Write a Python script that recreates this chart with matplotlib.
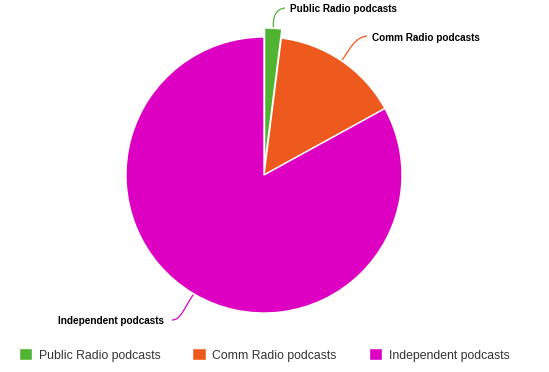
import numpy as np
import matplotlib.pyplot as plt
from matplotlib.path import Path
from matplotlib.patches import PathPatch

labels = ["Public Radio podcasts", "Comm Radio podcasts", "Independent podcasts"]
shares = [2, 15, 83]
colors = ["#50B432", "#EE5A1E", "#DD00C3"]

H = 372
fig = plt.figure(figsize=(5.49, 3.72), dpi=100)
ax = fig.add_axes([0, 0, 1, 1])

cx, cy, r = 264, H - 175, 138
wedges, _ = ax.pie(shares, colors=colors, explode=[9, 0, 0], startangle=90,
                   counterclock=False, center=(cx, cy), radius=r,
                   wedgeprops=dict(edgecolor="white", linewidth=1))
ax.set_xlim(0, 549)
ax.set_ylim(0, H)
ax.set_aspect("equal")
ax.axis("off")

# label text positions and connector control offsets (pixels, y from top)
lab_font = dict(family="Liberation Sans", fontsize=7.2, fontweight="bold", color="#000000")
text_pos = [(290, 9, "left"), (372, 38, "left"), (164, 321, "right")]
ends = [(285, 8), (367, 36), (172, 320)]
ctrl = [((273, 16), (276, 9)), ((351, 47), (356, 37)), ((184, 308), (181, 320))]

for w, lab, col, tp, e, c in zip(wedges, labels, colors, text_pos, ends, ctrl):
    ang = np.deg2rad((w.theta1 + w.theta2) / 2)
    wx, wy = w.center
    start = (wx + (r + 1) * np.cos(ang), wy + (r + 1) * np.sin(ang))
    verts = [start, (c[0][0], H - c[0][1]), (c[1][0], H - c[1][1]), (e[0], H - e[1])]
    path = Path(verts, [Path.MOVETO, Path.CURVE4, Path.CURVE4, Path.CURVE4])
    ax.add_patch(PathPatch(path, fc="none", ec=col, lw=0.9))
    ax.text(tp[0], H - tp[1], lab, ha=tp[2], va="center", **lab_font)

leg = ax.legend(wedges, labels, loc="center", bbox_to_anchor=(264 / 549, 1 - 355 / H),
                ncol=3, frameon=False, handlelength=1.1, handleheight=1.1,
                handletextpad=0.55, columnspacing=2.6,
                prop=dict(family="Liberation Sans", size=8.8))
for t in leg.get_texts():
    t.set_color("#333333")

fig.savefig("out.png", dpi=100)
